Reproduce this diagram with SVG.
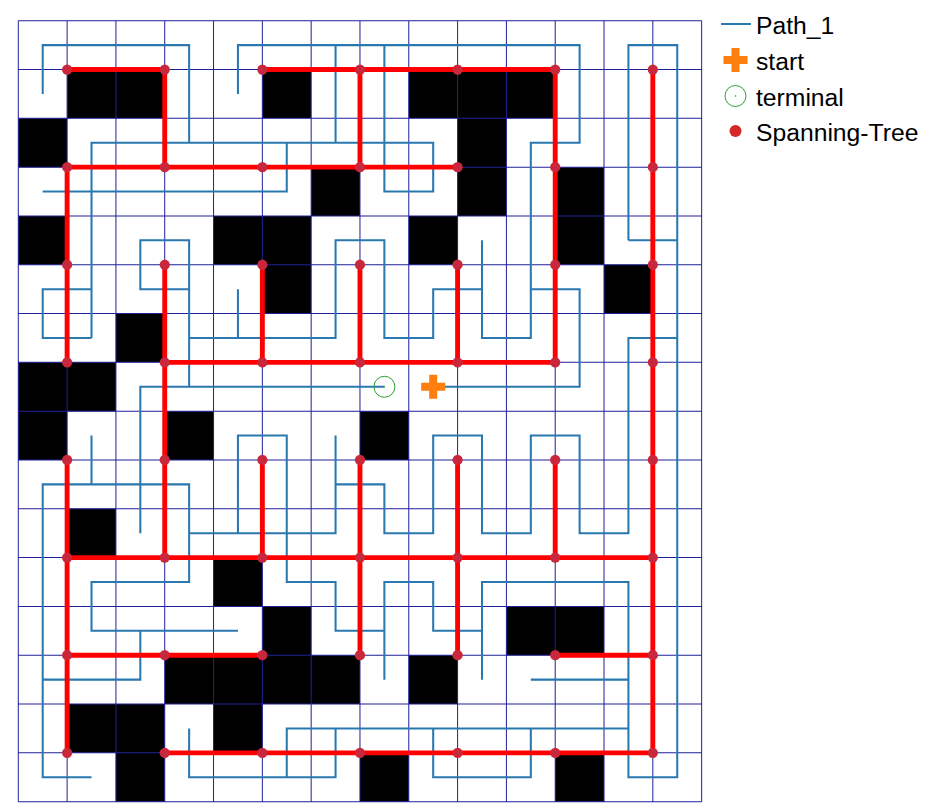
<svg xmlns="http://www.w3.org/2000/svg" width="931" height="812" viewBox="0 0 931 812">
<style>
.obst{fill:#000}
.grid{fill:none;stroke:#20209a;stroke-width:0.0205}
.path{fill:none;stroke:#2a78b0;stroke-width:0.042;stroke-linejoin:miter}
.tree{fill:none;stroke:#ff0000;stroke-width:0.1}
.node{fill:#c9283c}
.lbl{font-family:"Liberation Sans",Arial,sans-serif;font-size:24.7px;fill:#000}
</style>
<defs>
<path id="plus" d="M-4,-12H4V-4H12V4H4V12H-4V4H-12V-4H-4Z" fill="#ff7f0e"/>
</defs>
<rect width="931" height="812" fill="#fff"/>
<g id="map" transform="translate(18.3 20.7) scale(48.81)">
<path id="obstacles" class="obst" d="M1 1h2v1h-2z M5 1h1v1h-1z M8 1h3v1h-3z M0 2h1v1h-1z M9 2h1v1h-1z M6 3h1v1h-1z M9 3h1v1h-1z M11 3h1v1h-1z M0 4h1v1h-1z M4 4h2v1h-2z M8 4h1v1h-1z M11 4h1v1h-1z M5 5h1v1h-1z M12 5h1v1h-1z M2 6h1v1h-1z M0 7h2v1h-2z M0 8h1v1h-1z M3 8h1v1h-1z M7 8h1v1h-1z M1 10h1v1h-1z M4 11h1v1h-1z M5 12h1v1h-1z M10 12h2v1h-2z M3 13h4v1h-4z M8 13h1v1h-1z M1 14h2v1h-2z M4 14h1v1h-1z M2 15h1v1h-1z M7 15h1v1h-1z M11 15h1v1h-1z"/>
<path id="grid" class="grid" d="M0 0V16M1 0V16M2 0V16M3 0V16M4 0V16M5 0V16M6 0V16M7 0V16M8 0V16M9 0V16M10 0V16M11 0V16M12 0V16M13 0V16M14 0V16 M0 0H14M0 1H14M0 2H14M0 3H14M0 4H14M0 5H14M0 6H14M0 7H14M0 8H14M0 9H14M0 10H14M0 11H14M0 12H14M0 13H14M0 14H14M0 15H14M0 16H14"/>
</g>
<g id="path_1" transform="translate(42.705 45.105) scale(48.81)">
<path class="path" d="M0 1V0H3V2 M4 1V0H11V2H10V6H9V4 M1 6V2H8V3H7V0 M6 0V2 M0 3H5V2 M1 5H0V6H1 M3 5H2V4H3V7 M3 6H6V4H7V6H8V5H9 M4 5V6 M7 7H2V10 M8 7H11V5H10 M12 4V0H13V15H12V11H9V13 M12 4H13 M13 6H12V10H11V8H10V10H9V8H8V10H7V9H6V8 M6 9V10H3V9H0V15H1 M1 8V9 M4 10V8H5V11H6V12H7 M7 13V11H8V12H9 M3 10V11H1V12H4 M0 13H2V12 M10 13H12 M3 14V15H6V14 M5 15V14H12 M8 14V15H10V14"/>
</g>
<g id="spanning_tree" transform="translate(18.3 20.7) scale(48.81)">
<g id="tree_edges">
<path class="tree" d="M1 1H3M5 1H11 M1 3H9 M3 7H11 M1 11H13 M1 13H5M11 13H13 M3 15H13 M1 3V7M1 9V15 M3 1V3M3 5V11 M5 5V7M5 9V11 M7 1V3M7 5V7M7 9V13 M9 5V7M9 9V13 M11 1V7M11 9V11 M13 1V15"/>
</g>
<g id="tree_nodes" class="node">
<circle id="n1_1" cx="1" cy="1" r="0.105"/><circle id="n3_1" cx="3" cy="1" r="0.105"/><circle id="n5_1" cx="5" cy="1" r="0.105"/><circle id="n7_1" cx="7" cy="1" r="0.105"/><circle id="n9_1" cx="9" cy="1" r="0.105"/><circle id="n11_1" cx="11" cy="1" r="0.105"/><circle id="n13_1" cx="13" cy="1" r="0.105"/>
<circle id="n1_3" cx="1" cy="3" r="0.105"/><circle id="n3_3" cx="3" cy="3" r="0.105"/><circle id="n5_3" cx="5" cy="3" r="0.105"/><circle id="n7_3" cx="7" cy="3" r="0.105"/><circle id="n9_3" cx="9" cy="3" r="0.105"/><circle id="n11_3" cx="11" cy="3" r="0.105"/><circle id="n13_3" cx="13" cy="3" r="0.105"/>
<circle id="n1_5" cx="1" cy="5" r="0.105"/><circle id="n3_5" cx="3" cy="5" r="0.105"/><circle id="n5_5" cx="5" cy="5" r="0.105"/><circle id="n7_5" cx="7" cy="5" r="0.105"/><circle id="n9_5" cx="9" cy="5" r="0.105"/><circle id="n11_5" cx="11" cy="5" r="0.105"/><circle id="n13_5" cx="13" cy="5" r="0.105"/>
<circle id="n1_7" cx="1" cy="7" r="0.105"/><circle id="n3_7" cx="3" cy="7" r="0.105"/><circle id="n5_7" cx="5" cy="7" r="0.105"/><circle id="n7_7" cx="7" cy="7" r="0.105"/><circle id="n9_7" cx="9" cy="7" r="0.105"/><circle id="n11_7" cx="11" cy="7" r="0.105"/><circle id="n13_7" cx="13" cy="7" r="0.105"/>
<circle id="n1_9" cx="1" cy="9" r="0.105"/><circle id="n3_9" cx="3" cy="9" r="0.105"/><circle id="n5_9" cx="5" cy="9" r="0.105"/><circle id="n7_9" cx="7" cy="9" r="0.105"/><circle id="n9_9" cx="9" cy="9" r="0.105"/><circle id="n11_9" cx="11" cy="9" r="0.105"/><circle id="n13_9" cx="13" cy="9" r="0.105"/>
<circle id="n1_11" cx="1" cy="11" r="0.105"/><circle id="n3_11" cx="3" cy="11" r="0.105"/><circle id="n5_11" cx="5" cy="11" r="0.105"/><circle id="n7_11" cx="7" cy="11" r="0.105"/><circle id="n9_11" cx="9" cy="11" r="0.105"/><circle id="n11_11" cx="11" cy="11" r="0.105"/><circle id="n13_11" cx="13" cy="11" r="0.105"/>
<circle id="n1_13" cx="1" cy="13" r="0.105"/><circle id="n3_13" cx="3" cy="13" r="0.105"/><circle id="n5_13" cx="5" cy="13" r="0.105"/><circle id="n7_13" cx="7" cy="13" r="0.105"/><circle id="n9_13" cx="9" cy="13" r="0.105"/><circle id="n11_13" cx="11" cy="13" r="0.105"/><circle id="n13_13" cx="13" cy="13" r="0.105"/>
<circle id="n1_15" cx="1" cy="15" r="0.105"/><circle id="n3_15" cx="3" cy="15" r="0.105"/><circle id="n5_15" cx="5" cy="15" r="0.105"/><circle id="n7_15" cx="7" cy="15" r="0.105"/><circle id="n9_15" cx="9" cy="15" r="0.105"/><circle id="n11_15" cx="11" cy="15" r="0.105"/><circle id="n13_15" cx="13" cy="15" r="0.105"/>
</g>
</g>
<g id="terminal">
<circle cx="384.4" cy="386.8" r="10.5" fill="none" stroke="#2ca02c" stroke-width="1"/>
<circle cx="384.4" cy="386.8" r="0.8" fill="#2ca02c"/>
</g>
<g id="start">
<use href="#plus" x="433.2" y="386.8"/>
</g>
<g id="legend">
<line x1="721" y1="24" x2="751" y2="24" stroke="#2a78b0" stroke-width="2"/>
<text class="lbl" x="756" y="33.5">Path_1</text>
<use href="#plus" x="735.5" y="60"/>
<text class="lbl" x="756" y="69.5">start</text>
<circle cx="735.5" cy="96" r="10.5" fill="none" stroke="#2ca02c" stroke-width="1"/>
<circle cx="735.5" cy="96" r="0.8" fill="#2ca02c"/>
<text class="lbl" x="756" y="105.5">terminal</text>
<circle cx="735.5" cy="131" r="6" fill="#d62728"/>
<text class="lbl" x="756" y="140.5">Spanning-Tree</text>
</g>
</svg>
